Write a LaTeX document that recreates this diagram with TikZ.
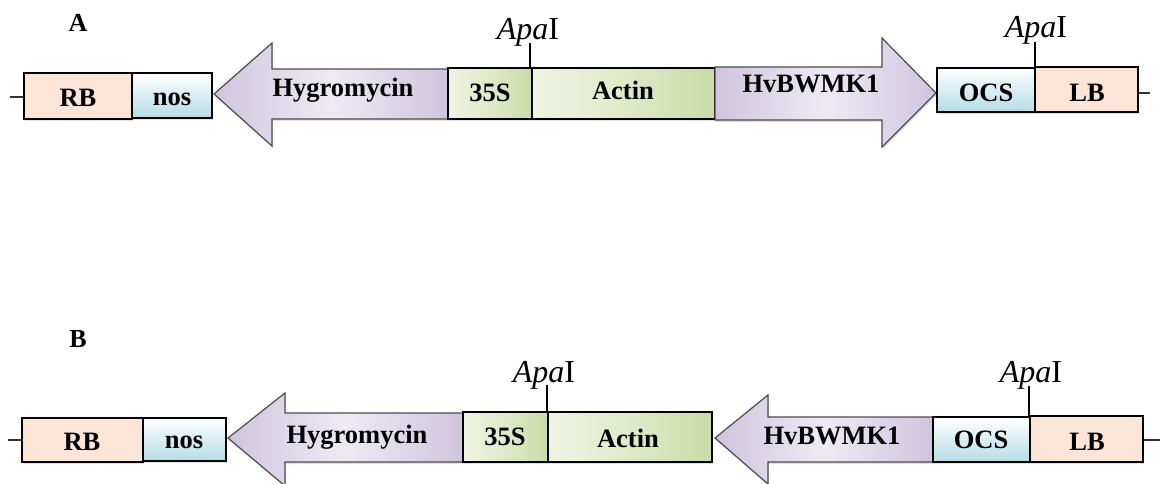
\documentclass[tikz,border=0pt]{standalone}
\usepackage{fontspec}
\setmainfont{Liberation Serif}
\usetikzlibrary{shadows}
\definecolor{peach}{HTML}{FCE4D6}
\definecolor{lblue}{HTML}{B4DCE6}
\definecolor{lav}{HTML}{CFC4DE}
\definecolor{lavlight}{HTML}{EEEAF3}
\definecolor{lgreen}{HTML}{C9DBA6}
\definecolor{lgreenlight}{HTML}{EEF4E2}
\tikzset{
  part/.style={draw=black, line width=1.2pt, drop shadow={opacity=0.25, shadow xshift=1pt, shadow yshift=-2pt}},
  peachbox/.style={part, fill=peach},
  bluebox/.style={part, top color=white, bottom color=lblue},
  greenbox/.style={part, shading angle=135, left color=lgreenlight, right color=lgreen, middle color=lgreenlight!60!lgreen},
  arrowbody/.style={draw=black!70, line width=1.2pt, shading angle=120, left color=lav, right color=lav, middle color=lavlight, drop shadow={opacity=0.25, shadow xshift=1pt, shadow yshift=-2pt}},
  lab/.style={anchor=base, font=\fontsize{26.5}{28}\selectfont\bfseries, inner sep=0pt},
  panel/.style={anchor=base, font=\fontsize{26}{28}\selectfont\bfseries, inner sep=0pt},
  site/.style={anchor=base, font=\fontsize{32}{34}\selectfont, inner sep=0pt},
  tick/.style={line width=1.5pt, draw=black!80},
  cut/.style={line width=1.3pt}
}
\begin{document}
\begin{tikzpicture}[x=1pt, y=-1pt]
\useasboundingbox (0,0) rectangle (1168,484);

% ---------------- Panel A ----------------
\node[panel] (pA) at (78,32) {A};
\coordinate (aL) at (10,97);
\coordinate (aR) at (1150,93);
\draw[tick] (aL) -- (24,97);
\draw[tick] (1138,93) -- (aR);

\draw[peachbox] (24,73) rectangle (132,119);
\draw[bluebox] (132,73) rectangle (212,118);
\draw[arrowbody] (448,69) -- (272,69) -- (272,43) -- (214,94) -- (272,146) -- (272,119) -- (448,119) -- cycle;
\draw[greenbox] (448,68) rectangle (532,119);
\draw[greenbox] (532,68) rectangle (715,119);
\draw[arrowbody] (715,67) -- (882,67) -- (882,38) -- (936,93) -- (882,147) -- (882,120) -- (715,120) -- cycle;
\draw[bluebox] (937,68) rectangle (1035,112);
\draw[peachbox] (1035,67) rectangle (1138,112);

\node[lab] (aRB) at (78,107) {RB};
\node[lab] (aNos) at (172,106) {nos};
\node[lab] (aHyg) at (343,97) {Hygromycin};
\node[lab] (a35S) at (490,102) {35S};
\node[lab] (aAct) at (623,100) {Actin};
\node[lab] (aHv) at (811,93) {HvBWMK1};
\node[lab] (aOCS) at (986,102) {OCS};
\node[lab] (aLB) at (1087,102) {LB};

\node[site] (aApa1) at (528,40) {\textit{Apa}I};
\node[site] (aApa2) at (1036,38) {\textit{Apa}I};
\coordinate (aC1) at (530,69);
\coordinate (aC2) at (1035,68);
\draw[cut] (530,43) -- (aC1);
\draw[cut] (1035,42) -- (aC2);

% ---------------- Panel B ----------------
\node[panel] (pB) at (78,347) {B};
\coordinate (bL) at (8,440);
\coordinate (bR) at (1160,440);
\draw[tick] (bL) -- (22,440);
\draw[tick] (1143,440) -- (bR);

\draw[peachbox] (22,418) rectangle (143,462);
\draw[bluebox] (143,418) rectangle (226,461);
\draw[arrowbody] (463,413) -- (285,413) -- (285,393) -- (228,438) -- (285,486) -- (285,462) -- (463,462) -- cycle;
\draw[greenbox] (463,412) rectangle (548,462);
\draw[greenbox] (548,412) rectangle (712,462);
\draw[arrowbody] (933,417) -- (768,417) -- (768,395) -- (715,438) -- (768,484) -- (768,462) -- (933,462) -- cycle;
\draw[bluebox] (933,417) rectangle (1030,462);
\draw[peachbox] (1030,416) rectangle (1143,462);

\node[lab] (bRB) at (82,450) {RB};
\node[lab] (bNos) at (184,448) {nos};
\node[lab] (bHyg) at (357,443) {Hygromycin};
\node[lab] (b35S) at (505,445) {35S};
\node[lab] (bAct) at (628,447) {Actin};
\node[lab] (bHv) at (832,444) {HvBWMK1};
\node[lab] (bOCS) at (981,448) {OCS};
\node[lab] (bLB) at (1087,450) {LB};

\node[site] (bApa1) at (544,382) {\textit{Apa}I};
\node[site] (bApa2) at (1031,382) {\textit{Apa}I};
\coordinate (bC1) at (547,413);
\coordinate (bC2) at (1029,417);
\draw[cut] (547,385) -- (bC1);
\draw[cut] (1029,386) -- (bC2);
\end{tikzpicture}
\end{document}
